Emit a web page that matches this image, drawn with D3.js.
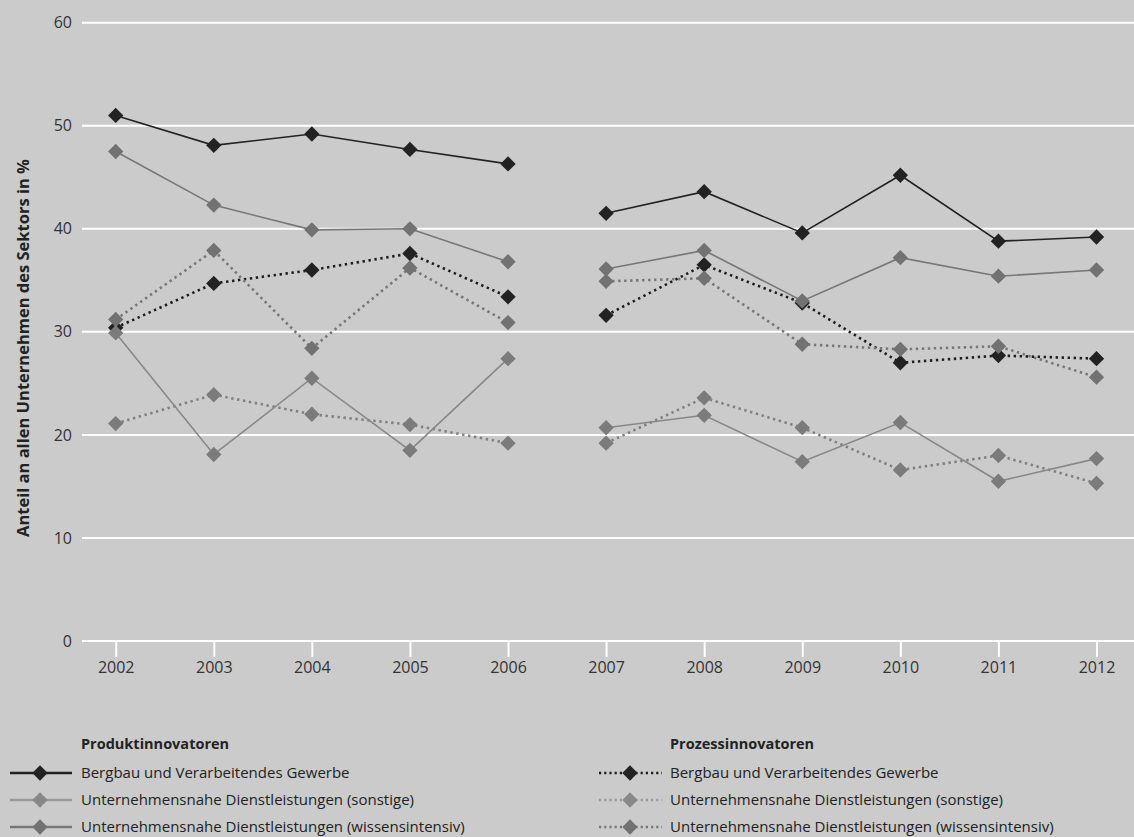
<!DOCTYPE html>
<html><head><meta charset="utf-8">
<script src="https://cdn.jsdelivr.net/npm/d3@7"></script>
<style>
html,body{margin:0;padding:0;background:#cbcbcb;}
svg{display:block;font-family:"Open Sans","Noto Sans",sans-serif;}
</style></head>
<body><svg id="c" width="1134" height="837"></svg>
<script>
const years = [2002,2003,2004,2005,2006,2007,2008,2009,2010,2011,2012];
const yTicks = [0,10,20,30,40,50,60];
const prodBergbau = [51.0,48.1,49.2,47.7,46.3,41.5,43.6,39.6,45.2,38.8,39.2];
const prodSonstige = [29.9,18.1,25.5,18.5,27.4,20.7,21.9,17.4,21.2,15.5,17.7];
const prodWissen = [47.5,42.3,39.9,40.0,36.8,36.1,37.9,33.0,37.2,35.4,36.0];
const procBergbau = [30.4,34.7,36.0,37.6,33.4,31.6,36.5,32.8,27.0,27.7,27.4];
const procSonstige = [21.1,23.9,22.0,21.0,19.2,19.2,23.6,20.7,16.6,18.0,15.3];
const procWissen = [31.2,37.9,28.4,36.2,30.9,34.9,35.2,28.8,28.3,28.6,25.6];
const yTitle = "Anteil an allen Unternehmen des Sektors in %";
const groupTitles = ["Produktinnovatoren","Prozessinnovatoren"];
const seriesNames = ["Bergbau und Verarbeitendes Gewerbe","Unternehmensnahe Dienstleistungen (sonstige)","Unternehmensnahe Dienstleistungen (wissensintensiv)"];
const segments = [[2002,2006],[2007,2012]];

const svg = d3.select("#c");
const x = d3.scaleLinear().domain([2002,2012]).range([115.7,1096.5]);
const y = d3.scaleLinear().domain([0,60]).range([641,22.7]);

// gridlines
svg.append("g").selectAll("line").data(yTicks).join("line")
  .attr("x1",82).attr("x2",1134).attr("y1",d=>y(d)).attr("y2",d=>y(d))
  .attr("stroke","#fff").attr("stroke-width",2);
// y labels
svg.append("g").selectAll("text").data(yTicks).join("text")
  .attr("x",72).attr("y",d=>y(d)).attr("dy","0.35em").attr("text-anchor","end")
  .attr("font-size",16).attr("fill","#333").text(d=>d);
// x ticks
const xa = svg.append("g").attr("transform",`translate(0,${y(0)})`)
  .call(d3.axisBottom(x).tickValues(years).tickFormat(d3.format("d")).tickSize(16).tickPadding(5));
xa.select(".domain").remove();
xa.selectAll(".tick line").attr("stroke","#fff").attr("stroke-width",2);
xa.selectAll(".tick text").attr("font-size",16).attr("fill","#333").attr("font-family","Open Sans, Noto Sans, sans-serif");

// y title
svg.append("text").attr("transform","translate(29,348) rotate(-90)")
  .attr("text-anchor","middle").attr("font-size",16.5).attr("font-weight","bold").attr("fill","#222").text(yTitle);

const series = [
  {vals:procBergbau, line:"#1e1e1e", mark:"#222", dash:true},
  {vals:procWissen, line:"#777", mark:"#727272", dash:true},
  {vals:procSonstige, line:"#808080", mark:"#7b7b7b", dash:true},
  {vals:prodBergbau, line:"#222", mark:"#222", dash:false},
  {vals:prodWissen, line:"#777", mark:"#727272", dash:false},
  {vals:prodSonstige, line:"#888", mark:"#7b7b7b", dash:false}
];
const line = d3.line().x(d=>x(d.year)).y(d=>y(d.v));
const diamond = d3.symbol().type(d3.symbolDiamond2).size(150);
series.forEach(s=>{
  const pts = years.map((yr,i)=>({year:yr,v:s.vals[i]}));
  const g = svg.append("g");
  segments.forEach(([a,b])=>{
    g.append("path").datum(pts.filter(p=>p.year>=a&&p.year<=b)).attr("d",line)
      .attr("fill","none").attr("stroke",s.line)
      .attr("stroke-width",s.dash?2.6:1.6)
      .attr("stroke-dasharray",s.dash?"2.4,3.6":null);
  });
  g.selectAll("path.m").data(pts).join("path").attr("class","m")
    .attr("transform",d=>`translate(${x(d.year)},${y(d.v)})`)
    .attr("d",diamond).attr("fill",s.mark);
});

// legend
const legCols = [
  {x0:10,x1:72,xm:40,tx:81,title:groupTitles[0],dash:false,
   items:[{c:"#222",m:"#222"},{c:"#999",m:"#888"},{c:"#777",m:"#727272"}]},
  {x0:599,x1:662,xm:630,tx:670,title:groupTitles[1],dash:true,
   items:[{c:"#1e1e1e",m:"#222"},{c:"#999",m:"#888"},{c:"#777",m:"#727272"}]}
];
const rowY = [773,800,827];
legCols.forEach(col=>{
  svg.append("text").attr("x",col.tx).attr("y",744).attr("dy","0.35em")
    .attr("font-size",14.5).attr("font-weight","bold").attr("fill","#222").text(col.title);
  col.items.forEach((it,i)=>{
    svg.append("line").attr("x1",col.x0).attr("x2",col.x1).attr("y1",rowY[i]).attr("y2",rowY[i])
      .attr("stroke",it.c).attr("stroke-width",col.dash?2.4:2.5)
      .attr("stroke-dasharray",col.dash?"2.2,3":null);
    svg.append("path").attr("transform",`translate(${col.xm},${rowY[i]})`)
      .attr("d",diamond).attr("fill",it.m);
    svg.append("text").attr("x",col.tx).attr("y",rowY[i]).attr("dy","0.35em")
      .attr("font-size",15).attr("fill","#222").text(seriesNames[i]);
  });
});
</script></body></html>
